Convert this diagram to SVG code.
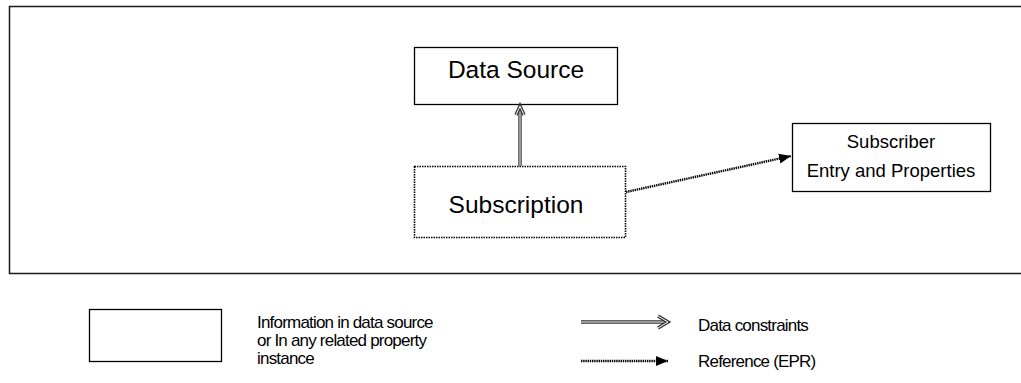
<svg xmlns="http://www.w3.org/2000/svg" width="1021" height="383" viewBox="0 0 1021 383">
  <style>
    .box { fill: #ffffff; stroke: #000000; stroke-width: 1.3; }
    .dotted { fill: #ffffff; stroke: #000000; stroke-width: 1.6; stroke-dasharray: 1.5 1; }
    .big { font-family: "Liberation Sans", Arial, sans-serif; font-size: 24.5px; fill: #000000; text-anchor: middle; }
    .mid { font-family: "Liberation Sans", Arial, sans-serif; font-size: 18.5px; fill: #000000; text-anchor: middle; }
    .small { font-family: "Liberation Sans", Arial, sans-serif; font-size: 17px; fill: #000000; letter-spacing: -0.8px; }
    .dbl-outer { fill: none; stroke: #333333; stroke-width: 3.4; }
    .dbl-inner { fill: none; stroke: #ffffff; stroke-width: 1; }
    .ref { fill: none; stroke: #000000; stroke-width: 2.4; stroke-dasharray: 1.4 0.8; }
  </style>
  <defs>
    <marker id="refHead" markerUnits="userSpaceOnUse" markerWidth="14" markerHeight="12" refX="12" refY="6" orient="auto">
      <path d="M0,1 L12,6 L0,11 Z" fill="#000000"/>
    </marker>
  </defs>

  <!-- outer frame (right edge runs off the canvas) -->
  <path d="M1030,6.5 H9.5 V273.5 H1030" fill="none" stroke="#1a1a1a" stroke-width="1.5"/>

  <g id="data-source">
    <rect class="box" x="414.5" y="47.5" width="203" height="57"/>
    <text class="big" x="516" y="78">Data Source</text>
  </g>

  <g id="subscription">
    <rect class="dotted" x="414.5" y="166.5" width="211" height="71"/>
    <text class="big" x="516" y="213">Subscription</text>
  </g>

  <g id="subscriber">
    <rect class="box" x="792.5" y="123.5" width="198" height="68"/>
    <text class="mid" x="891" y="148">Subscriber</text>
    <text class="mid" x="891" y="177">Entry and Properties</text>
  </g>

  <g id="connectors">
    <!-- data constraint: subscription -> data source -->
    <line class="dbl-outer" x1="520" y1="166" x2="520" y2="108"/>
    <line class="dbl-inner" x1="520" y1="166" x2="520" y2="108"/>
    <path class="dbl-outer" d="M516,115 L520,106 L524,115" stroke-linejoin="miter"/>
    <path class="dbl-inner" d="M516,115 L520,106 L524,115" stroke-linejoin="miter"/>
    <!-- reference: subscription -> subscriber -->
    <line class="ref" x1="626" y1="192" x2="791" y2="156" marker-end="url(#refHead)"/>
  </g>

  <g id="legend">
    <g id="legend-box">
      <rect class="box" x="89.5" y="309.5" width="132" height="52"/>
      <text class="small" x="257" y="328">Information in data source</text>
      <text class="small" x="257" y="346">or In any related property</text>
      <text class="small" x="257" y="364">instance</text>
    </g>
    <g id="legend-constraint">
      <line class="dbl-outer" x1="581" y1="322" x2="664" y2="322"/>
      <line class="dbl-inner" x1="581" y1="322" x2="664" y2="322"/>
      <path class="dbl-outer" d="M658,316 L668,322 L658,328"/>
      <path class="dbl-inner" d="M658,316 L668,322 L658,328"/>
      <text class="small" x="698" y="331">Data constraints</text>
    </g>
    <g id="legend-reference">
      <line class="ref" x1="581" y1="361" x2="668" y2="361" marker-end="url(#refHead)"/>
      <text class="small" x="698" y="367">Reference (EPR)</text>
    </g>
  </g>
</svg>
